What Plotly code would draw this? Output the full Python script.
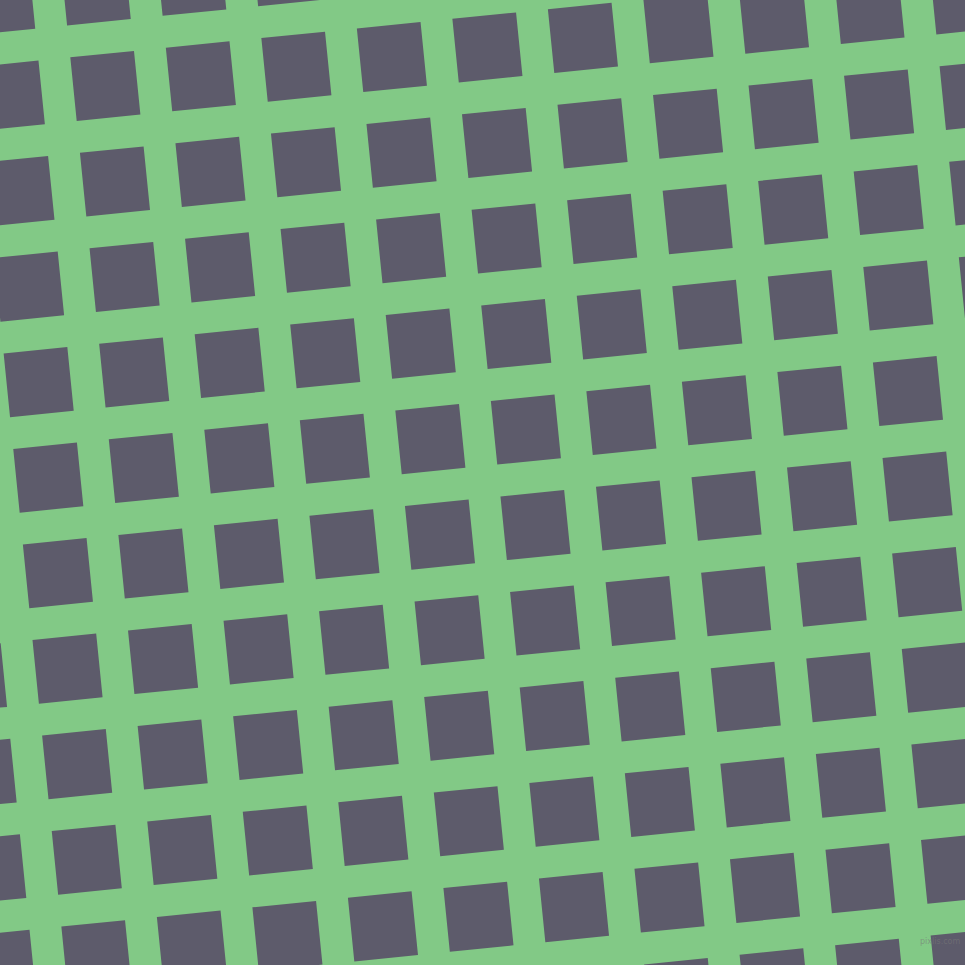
import math
import plotly.graph_objects as go

# --------------------------
# Pattern values
# --------------------------
bg_color = "#82C986"
tile_color = "#5D5B6B"
angle_deg = 5.75          # grid turned counter-clockwise
period = 96.0             # distance between tile starts
tile_size = 64.0          # side of a dark tile
origin = [70.3, 57.3]     # top-left corner of one tile (screen px)
col_index = list(range(-3, 12))
row_index = list(range(-3, 12))

W = H = 965

# --------------------------
# Build tile outlines
# --------------------------
c = math.cos(math.radians(angle_deg))
s = math.sin(math.radians(angle_deg))


def to_screen(u, v):
    # u runs along a row, v down a column
    return origin[0] + u * c + v * s, origin[1] - u * s + v * c


xs, ys = [], []
for r in row_index:
    for k in col_index:
        u0, v0 = k * period, r * period
        corners = [(u0, v0), (u0 + tile_size, v0),
                   (u0 + tile_size, v0 + tile_size), (u0, v0 + tile_size), (u0, v0)]
        pts = [to_screen(u, v) for u, v in corners]
        if all(p[0] < -10 or p[0] > W + 10 for p in pts) or all(p[1] < -10 or p[1] > H + 10 for p in pts):
            continue
        for px_, py_ in pts:
            xs.append(px_)
            ys.append(py_)
        xs.append(None)
        ys.append(None)

fig = go.Figure()
fig.add_trace(go.Scatter(
    x=xs, y=ys, mode="lines", fill="toself",
    fillcolor=tile_color, line=dict(width=0, color=tile_color),
    hoverinfo="skip", showlegend=False,
))

fig.add_annotation(
    x=962, y=941, xref="x", yref="y", text="pixlis.com", showarrow=False,
    xanchor="right", yanchor="middle",
    font=dict(family="DejaVu Sans", size=8, color="rgba(120,120,120,0.6)"),
)

fig.update_xaxes(range=[0, W], visible=False, fixedrange=True)
fig.update_yaxes(range=[H, 0], visible=False, fixedrange=True)
fig.update_layout(
    width=W, height=H,
    margin=dict(l=0, r=0, t=0, b=0),
    paper_bgcolor=bg_color, plot_bgcolor=bg_color,
)

# the page's default body margin would shift the picture by 8px
fig.write_html("out.html", config={"displayModeBar": False},
               post_script="document.body.style.margin='0';document.body.style.overflow='hidden';")
